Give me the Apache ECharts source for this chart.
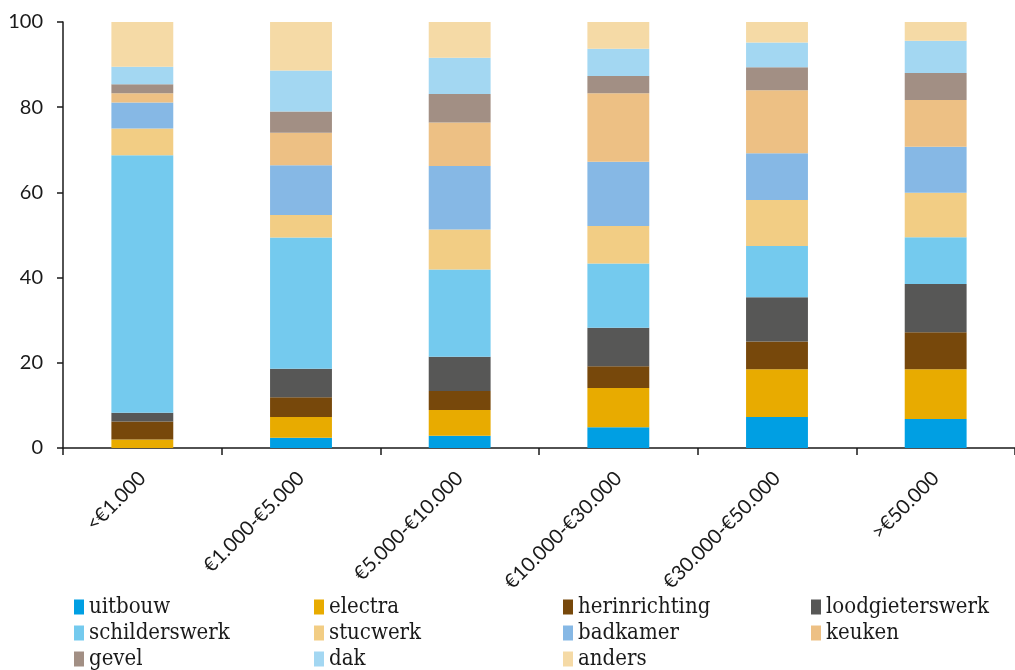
<!DOCTYPE html>
<html>
<head>
<meta charset="utf-8">
<script src="https://cdn.jsdelivr.net/npm/echarts@6/dist/echarts.min.js"></script>
<style>
  html, body { margin: 0; padding: 0; background: #fff; }
  #main { width: 1015px; height: 670px; }
</style>
</head>
<body>
<div id="main"></div>
<script>
// categorieen (bedrag)
var categories = ['<€1.000', '€1.000-€5.000', '€5.000-€10.000', '€10.000-€30.000', '€30.000-€50.000', '>€50.000'];

// aandeel per soort verbouwing (%)
var uitbouw         = [0.0, 2.4, 2.9, 4.9, 7.3, 6.8];
var electra         = [2.0, 4.9, 6.0, 9.2, 11.2, 11.7];
var herinrichting   = [4.2, 4.6, 4.5, 5.1, 6.5, 8.7];
var loodgieterswerk = [2.1, 6.7, 8.0, 9.0, 10.4, 11.3];
var schilderswerk   = [60.4, 30.8, 20.5, 15.1, 12.0, 11.0];
var stucwerk        = [6.3, 5.3, 9.4, 8.8, 10.8, 10.4];
var badkamer        = [6.1, 11.7, 14.9, 15.1, 11.0, 10.8];
var keuken          = [2.2, 7.6, 10.2, 16.1, 14.8, 11.0];
var gevel           = [2.1, 5.0, 6.7, 4.0, 5.4, 6.3];
var dak             = [4.1, 9.6, 8.5, 6.4, 5.8, 7.6];
var anders          = [10.5, 11.6, 8.6, 6.3, 4.8, 4.4];

var yTicks = [0, 20, 40, 60, 80, 100];

var names = ['uitbouw', 'electra', 'herinrichting', 'loodgieterswerk', 'schilderswerk',
  'stucwerk', 'badkamer', 'keuken', 'gevel', 'dak', 'anders'];
var values = [uitbouw, electra, herinrichting, loodgieterswerk, schilderswerk,
  stucwerk, badkamer, keuken, gevel, dak, anders];
var colors = ['#009FE3', '#E8AB00', '#77480B', '#575756', '#74CAEE',
  '#F2CD84', '#86B8E5', '#EDC084', '#A28F84', '#A3D7F2', '#F5DAA6'];

var series = names.map(function (n, i) {
  return {
    name: n,
    type: 'bar',
    stack: 'totaal',
    barWidth: '39%',
    itemStyle: { color: colors[i] },
    data: values[i]
  };
});

// legenda in 4 kolommen
var legendCols = [
  ['uitbouw', 'schilderswerk', 'gevel'],
  ['electra', 'stucwerk', 'dak'],
  ['herinrichting', 'badkamer', 'anders'],
  ['loodgieterswerk', 'keuken']
];
var legendLeft = [74, 314, 563, 811];
var legends = legendCols.map(function (col, i) {
  return {
    orient: 'vertical',
    left: legendLeft[i],
    top: 596,
    height: 90,
    padding: 0,
    data: col,
    icon: 'rect',
    itemWidth: 10,
    itemHeight: 15,
    itemGap: 4,
    selectedMode: false,
    textStyle: {
      fontFamily: '"DejaVu Serif Condensed", "Liberation Serif", serif',
      fontSize: 22,
      lineHeight: 22,
      color: '#1a1a1a'
    }
  };
});

var chart = echarts.init(document.getElementById('main'));
chart.setOption({
  animation: false,
  legend: legends,
  grid: { left: 63, right: -8, top: 22, bottom: 222, containLabel: false },
  xAxis: {
    type: 'category',
    data: categories,
    axisLine: { lineStyle: { color: '#1a1a1a', width: 1.5 } },
    axisTick: { show: true, length: 7, lineStyle: { color: '#1a1a1a', width: 1.5 } },
    axisLabel: {
      rotate: 45,
      margin: 27,
      fontFamily: 'Lato, sans-serif',
      fontSize: 20,
      color: '#1a1a1a'
    }
  },
  yAxis: {
    type: 'value',
    min: yTicks[0],
    max: yTicks[yTicks.length - 1],
    interval: 20,
    splitLine: { show: false },
    axisLine: { show: true, lineStyle: { color: '#1a1a1a', width: 1.5 } },
    axisTick: { show: true, length: 6, lineStyle: { color: '#1a1a1a', width: 1.5 } },
    axisLabel: {
      margin: 20,
      fontFamily: 'Lato, sans-serif',
      fontSize: 20,
      color: '#1a1a1a'
    }
  },
  series: series
});
</script>
</body>
</html>
